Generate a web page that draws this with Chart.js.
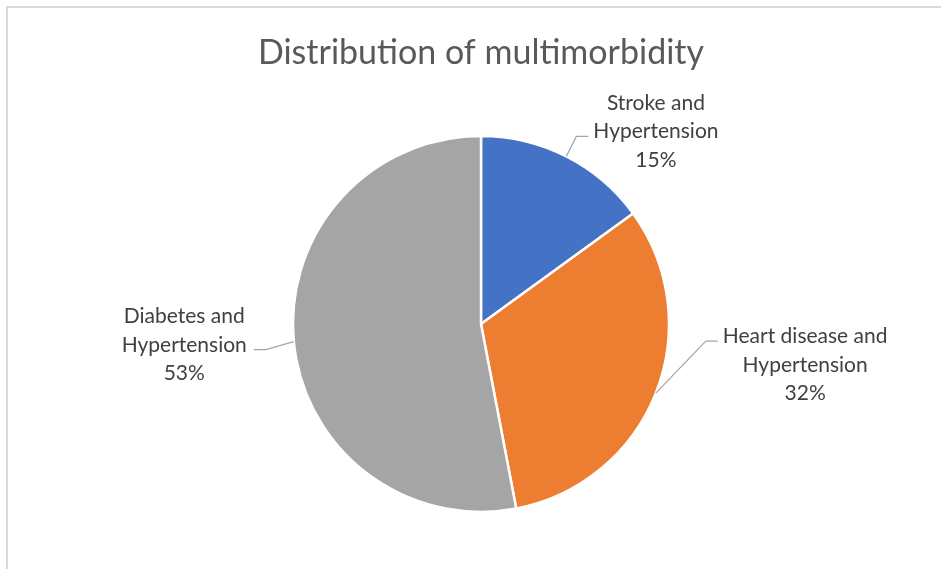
<!DOCTYPE html>
<html>
<head>
<meta charset="utf-8">
<script src="https://cdn.jsdelivr.net/npm/chart.js@4.4.1/dist/chart.umd.min.js"></script>
<style>
  html, body { margin: 0; padding: 0; background: #ffffff; }
  #wrap { width: 941px; height: 569px; }
</style>
</head>
<body>
<div id="wrap"><canvas id="chart" width="941" height="569"></canvas></div>
<script>
// Chart data
const categories = ['Stroke and Hypertension', 'Heart disease and Hypertension', 'Diabetes and Hypertension'];
const labelLines = [['Stroke and', 'Hypertension'], ['Heart disease and', 'Hypertension'], ['Diabetes and', 'Hypertension']];
const shares = [15, 32, 53];
const sliceColors = ['#4472C4', '#ED7D31', '#A5A5A5'];
const chartTitle = 'Distribution of multimorbidity';

// Leader line geometry for each data label: elbow offset from the slice edge,
// horizontal run length, gap before the text, which text line the leader
// attaches to, and side.
const leaderStyle = [
  { elbow: [10, -20], run: 12, gap: 5, line: 1, side: 'right' },
  { elbow: [50, -52], run: 12, gap: 5, line: 0, side: 'right' },
  { elbow: [-28, 8], run: 12, gap: 7, line: 1, side: 'left' }
];

const FONT = 'Lato, "Open Sans", sans-serif';

// Light frame around the chart
const framePlugin = {
  id: 'frame',
  beforeDraw(chart) {
    const ctx = chart.ctx;
    ctx.save();
    ctx.fillStyle = '#ffffff';
    ctx.fillRect(0, 0, chart.width, chart.height);
    ctx.strokeStyle = '#d9d9d9';
    ctx.lineWidth = 2;
    ctx.beginPath();
    ctx.moveTo(7, chart.height);
    ctx.lineTo(7, 7);
    ctx.lineTo(chart.width, 7);
    ctx.stroke();
    ctx.restore();
  }
};

// Data labels with leader lines, anchored at the middle of each slice's outer edge
const pieLabels = {
  id: 'pieLabels',
  afterDatasetsDraw(chart) {
    const ctx = chart.ctx;
    const meta = chart.getDatasetMeta(0);
    const data = chart.data.datasets[0].data;
    const total = data.reduce((a, b) => a + b, 0);
    const lineH = 28.5;
    ctx.save();
    ctx.font = '21px ' + FONT;
    ctx.textBaseline = 'alphabetic';
    ctx.textAlign = 'center';
    meta.data.forEach((arc, i) => {
      const mid = (arc.startAngle + arc.endAngle) / 2;
      const ex = arc.x + Math.cos(mid) * arc.outerRadius;
      const ey = arc.y + Math.sin(mid) * arc.outerRadius;
      const st = leaderStyle[i];
      const bx = ex + st.elbow[0];
      const by = ey + st.elbow[1];
      const dir = st.side === 'right' ? 1 : -1;
      const hx = bx + dir * st.run;

      ctx.strokeStyle = '#a6a6a6';
      ctx.lineWidth = 1.2;
      ctx.beginPath();
      ctx.moveTo(ex, ey);
      ctx.lineTo(bx, by);
      ctx.lineTo(hx, by);
      ctx.stroke();

      const lines = labelLines[i].concat([Math.round(data[i] / total * 100) + '%']);
      const attached = lines[st.line];
      const w = ctx.measureText(attached).width;
      const cx = hx + dir * (st.gap + w / 2);
      const y0 = by + 2 - st.line * lineH;
      ctx.fillStyle = '#404040';
      lines.forEach((t, k) => ctx.fillText(t, cx, y0 + k * lineH));
    });
    ctx.restore();
  }
};

new Chart(document.getElementById('chart'), {
  type: 'pie',
  data: {
    labels: categories,
    datasets: [{
      data: shares,
      backgroundColor: sliceColors,
      borderColor: '#ffffff',
      borderWidth: 2.5
    }]
  },
  options: {
    responsive: false,
    animation: false,
    radius: 188,
    layout: { padding: { left: 21, right: 0, top: 0, bottom: 1 } },
    plugins: {
      legend: { display: false },
      tooltip: { enabled: false },
      title: {
        display: true,
        text: chartTitle,
        color: '#595959',
        font: { family: FONT, size: 34, weight: 'normal' },
        padding: { top: 33, bottom: 6 }
      }
    }
  },
  plugins: [framePlugin, pieLabels]
});
</script>
</body>
</html>
